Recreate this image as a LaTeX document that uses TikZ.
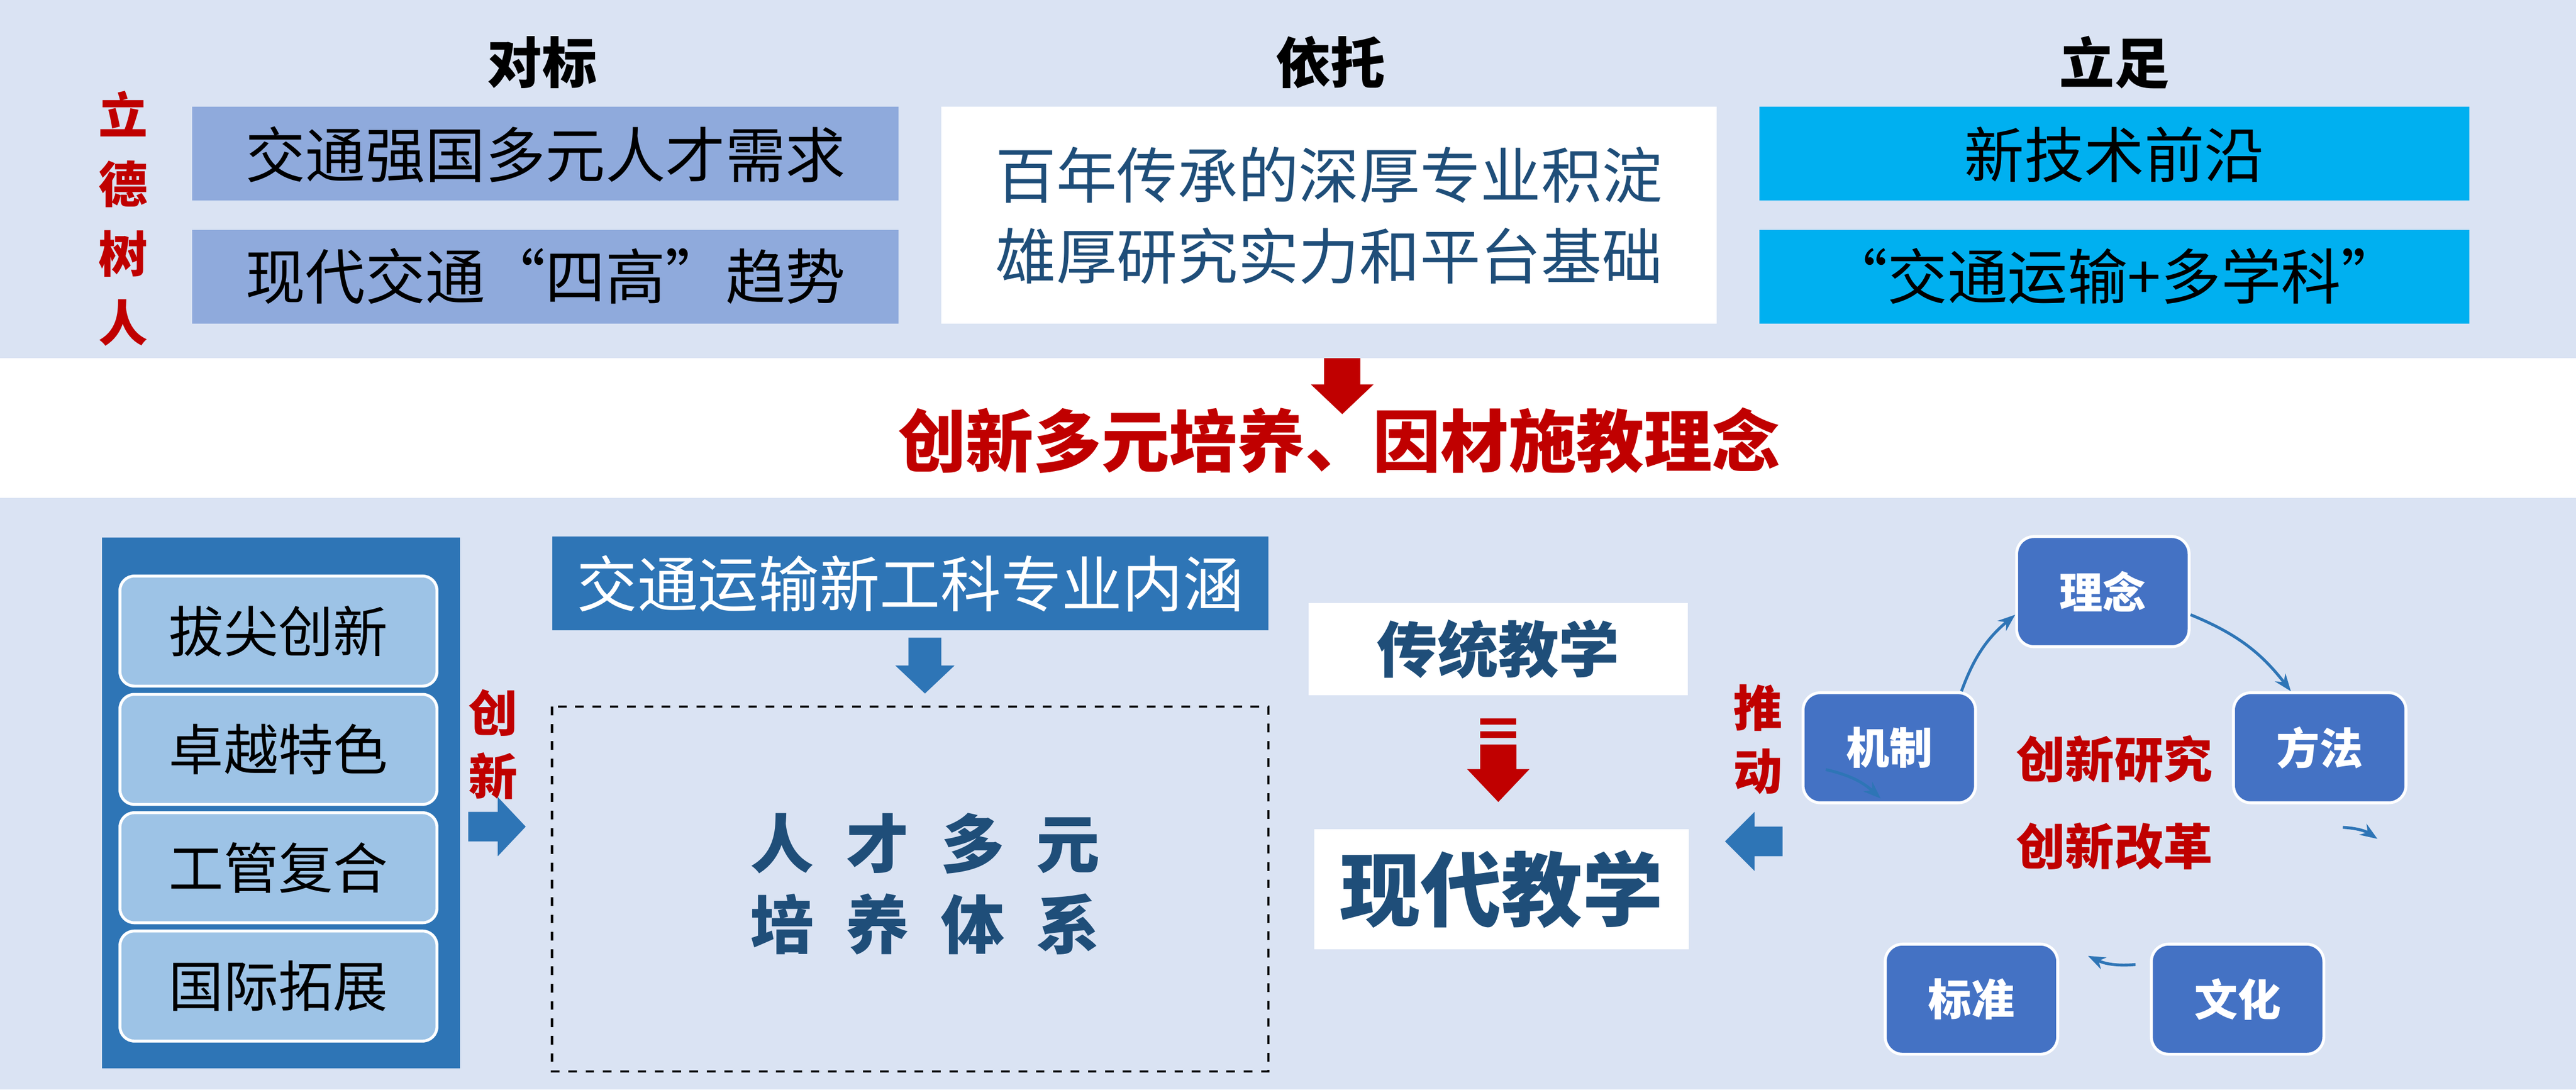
\documentclass[tikz,border=0pt]{standalone}
\usepackage{fontspec}
\setmainfont{Noto Sans CJK SC}
\usetikzlibrary{positioning, arrows.meta, calc}
\definecolor{bandblue}{HTML}{DAE3F3}
\definecolor{needblue}{HTML}{8FAADC}
\definecolor{skyblue}{HTML}{00B0F0}
\definecolor{midblue}{HTML}{2E75B6}
\definecolor{lightblue}{HTML}{9DC3E6}
\definecolor{cycblue}{HTML}{4472C4}
\definecolor{darkteal}{HTML}{1F4E79}
\definecolor{deepred}{HTML}{C00000}
\begin{document}
\begin{tikzpicture}[
      x=0.02cm, y=-0.02cm,
      heading/.style={font=\fontsize{19}{22}\selectfont\bfseries},
      toptext/.style={font=\fontsize{20.8}{24}\selectfont},
      sidebox/.style={draw=white, line width=1pt, rounded corners=5pt, fill=lightblue, minimum width=3.86cm, minimum height=1.34cm, font=\fontsize{19}{22}\selectfont},
      cycbox/.style={draw=white, line width=1pt, rounded corners=6pt, fill=cycblue, minimum width=2.1cm, minimum height=1.34cm, text=white, font=\fontsize{15}{18}\selectfont\bfseries},
      redtext/.style={text=deepred, font=\fontsize{17}{20}\selectfont\bfseries},
      cyc/.style={-{Stealth[length=6pt]}, draw=midblue, line width=1pt}
    ]
    % backgrounds
    \fill[bandblue] (0,0) rectangle (1568,218);
    \fill[white] (0,218) rectangle (1568,303);
    \fill[bandblue] (0,303) rectangle (1568,663);
    \useasboundingbox (0,0) rectangle (1568,663);

    % top: headings
    \node[heading] (hdb) at (330,38) {对标};
    \node[heading] (hyt) at (810,38) {依托};
    \node[heading] (hlz) at (1287,38) {立足};
    \node[redtext, align=center, font=\fontsize{17}{24}\selectfont\bfseries] (ldsr) at (75,133) {立\\德\\树\\人};

    % top: boxes
    \fill[needblue] (117,65) rectangle (547,122);
    \fill[needblue] (117,140) rectangle (547,197);
    \fill[white] (573,65) rectangle (1045,197);
    \fill[skyblue] (1071,65) rectangle (1503,122);
    \fill[skyblue] (1071,140) rectangle (1503,197);
    \node[toptext] (need) at (332,94) {交通强国多元人才需求};
    \node[toptext] (trend) at (332,168) {现代交通“四高”趋势};
    \node[toptext, font=\fontsize{21}{28}\selectfont, text=darkteal, align=center] (base) at (809,131) {百年传承的深厚专业积淀\\雄厚研究实力和平台基础};
    \node[toptext] (tech) at (1287,94) {新技术前沿};
    \node[toptext] (multi) at (1287,168) {“交通运输+多学科”};

    % concept
    \fill[deepred] (806,218) -- (828,218) -- (828,234) -- (836,234) -- (817,252) -- (798,234) -- (806,234) -- cycle;
    \node[text=deepred, font=\fontsize{23.5}{28}\selectfont\bfseries] (concept) at (815,268) {创新多元培养、因材施教理念};

    % bottom left column
    \fill[midblue] (62,327) rectangle (280,650);
    \node[sidebox] (bj) at (169.5,384) {拔尖创新};
    \node[sidebox] (zy) at (169.5,456) {卓越特色};
    \node[sidebox] (gg) at (169.5,528) {工管复合};
    \node[sidebox] (gj) at (169.5,600) {国际拓展};
    \node[redtext, align=center, font=\fontsize{17}{22}\selectfont\bfseries] (cx) at (300,453) {创\\新};
    \fill[midblue] (285,494) -- (303,494) -- (303,485) -- (320,503) -- (303,521) -- (303,512) -- (285,512) -- cycle;

    % middle
    \node[fill=midblue, text=white, minimum width=8.72cm, minimum height=1.14cm, font=\fontsize{21}{24}\selectfont] (nh) at (554,355) {交通运输新工科专业内涵};
    \fill[midblue] (553,388) -- (573,388) -- (573,405) -- (581,405) -- (563,422) -- (545,405) -- (553,405) -- cycle;
    \draw[dashed, line width=0.8pt] (336,430) rectangle (772,652);
    \node[text=darkteal, align=center, font=\fontsize{22}{28}\selectfont\bfseries] (tx) at (563,538) {人\hspace{0.5em}才\hspace{0.5em}多\hspace{0.5em}元\\培\hspace{0.5em}养\hspace{0.5em}体\hspace{0.5em}系};

    % teaching
    \node[fill=white, minimum width=4.62cm, minimum height=1.12cm, text=darkteal, font=\fontsize{21}{24}\selectfont\bfseries] (ct) at (912,395) {传统教学};
    \fill[deepred] (901,437) rectangle (923,441);
    \fill[deepred] (901,445) rectangle (923,449);
    \fill[deepred] (901,453) -- (923,453) -- (923,468) -- (931,468) -- (912,488) -- (893,468) -- (901,468) -- cycle;
    \node[fill=white, minimum width=4.56cm, minimum height=1.46cm, text=darkteal, font=\fontsize{28}{32}\selectfont\bfseries] (xd) at (914,541) {现代教学};
    \fill[midblue] (1085,503) -- (1068,503) -- (1068,494) -- (1050,512) -- (1068,530) -- (1068,521) -- (1085,521) -- cycle;
    \node[redtext, align=center, font=\fontsize{17}{22}\selectfont\bfseries] (td) at (1070,450) {推\\动};

    % cycle
    \node[cycbox] (ln) at (1280,360) {理念};
    \node[cycbox] (ff) at (1412,455) {方法};
    \node[cycbox] (wh) at (1362,608) {文化};
    \node[cycbox] (bz) at (1200,608) {标准};
    \node[cycbox] (jz) at (1150,455) {机制};
    \node[redtext] (yj) at (1287,462) {创新研究};
    \node[redtext] (gk) at (1287,515) {创新改革};
    \draw[cyc] ([xshift=25pt]jz.north) to[bend left=15] ([yshift=-8pt]ln.west);
    \draw[cyc] ([yshift=-8pt]ln.east) to[bend left=15] ([xshift=-10pt]ff.north);
    \draw[cyc] ([xshift=8pt, yshift=-8pt]ff.south) to[bend left=15] ([xshift=20pt, yshift=-12pt]ff.south);
    \draw[cyc] ([yshift=12pt, xshift=-5pt]wh.west) to[bend left=15] ([yshift=15pt, xshift=10pt]bz.east);
    \draw[cyc] ([xshift=-22pt, yshift=12pt]jz.south) to[bend left=15] ([xshift=-3pt, yshift=2pt]jz.south);
  \end{tikzpicture}
\end{document}
